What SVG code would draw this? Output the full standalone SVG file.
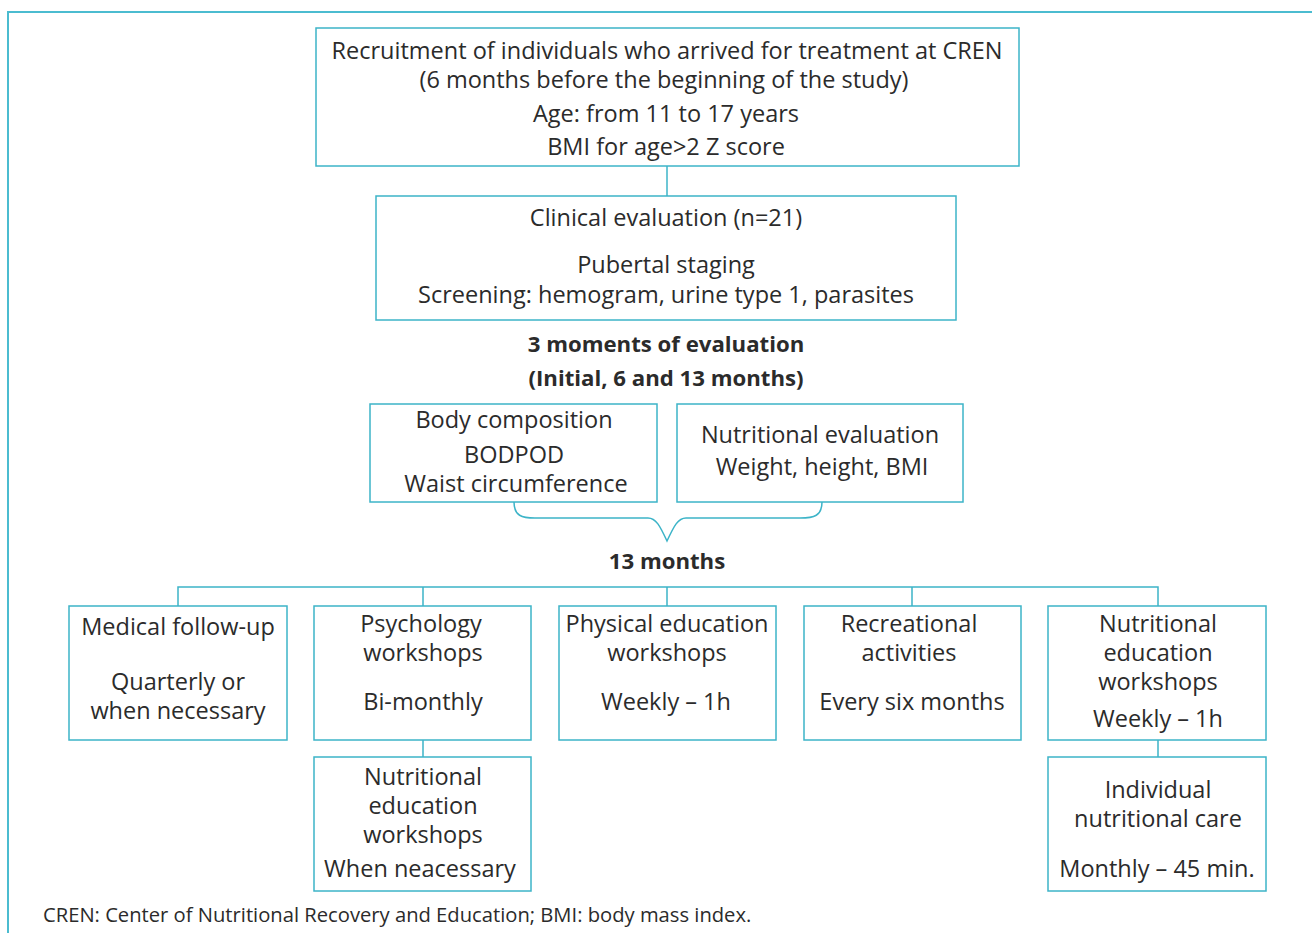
<svg xmlns="http://www.w3.org/2000/svg" width="1312" height="933" viewBox="0 0 1312 933">
<style>
.b{fill:#fff;stroke:#3db4c8;stroke-width:1.5}
.l{fill:none;stroke:#3db4c8;stroke-width:1.5}
text{font-family:"Open Sans","Noto Sans",sans-serif;font-size:23.5px;fill:#2b2b2b;text-anchor:middle}
.t{font-weight:bold;font-size:22.2px}
.f{font-size:20.2px;text-anchor:start}
</style>
<rect width="1312" height="933" fill="#fff"/>
<path d="M8,933 V12 H1312" fill="none" stroke="#4bbcd0" stroke-width="2"/>
<g id="connectors">
<path class="l" d="M667,166 V196"/>
<path class="l" d="M514,502 C514,516 522,518 535,518 H648 C656,518 660,526 667,541 C674,526 678,518 686,518 H800 C814,518 822,516 822,502" stroke-width="2"/>
<path class="l" d="M178,606 V587 H1158 V606 M423,587 V606 M667,587 V606 M912,587 V606"/>
<path class="l" d="M423,740 V757 M1158,740 V757"/>
</g>
<g id="recruitment">
<rect class="b" x="316" y="28" width="703" height="138"/>
<text x="667" y="59">Recruitment of individuals who arrived for treatment at CREN</text>
<text x="664" y="88">(6 months before the beginning of the study)</text>
<text x="666" y="122">Age: from 11 to 17 years</text>
<text x="666" y="155">BMI for age&gt;2 Z score</text>
</g>
<g id="clinical">
<rect class="b" x="376" y="196" width="580" height="124"/>
<text x="666" y="226">Clinical evaluation (n=21)</text>
<text x="666" y="273">Pubertal staging</text>
<text x="666" y="303">Screening: hemogram, urine type 1, parasites</text>
</g>
<g id="moments">
<text class="t" x="666" y="352">3 moments of evaluation</text>
<text class="t" x="666" y="386">(Initial, 6 and 13 months)</text>
</g>
<g id="body">
<rect class="b" x="370" y="404" width="287" height="98"/>
<text x="514" y="428">Body composition</text>
<text x="514" y="463">BODPOD</text>
<text x="516" y="492">Waist circumference</text>
</g>
<g id="nutreval">
<rect class="b" x="677" y="404" width="286" height="98"/>
<text x="820" y="443">Nutritional evaluation</text>
<text x="822" y="475">Weight, height, BMI</text>
</g>
<g id="months13">
<text class="t" x="667" y="569">13 months</text>
</g>
<g id="medical">
<rect class="b" x="69" y="606" width="218" height="134"/>
<text x="178" y="635">Medical follow-up</text>
<text x="178" y="690">Quarterly or</text>
<text x="178" y="719">when necessary</text>
</g>
<g id="psychology">
<rect class="b" x="314" y="606" width="217" height="134"/>
<text x="421" y="632">Psychology</text>
<text x="423" y="661">workshops</text>
<text x="423" y="710">Bi-monthly</text>
</g>
<g id="physical">
<rect class="b" x="559" y="606" width="217" height="134"/>
<text x="667" y="632">Physical education</text>
<text x="667" y="661">workshops</text>
<text x="666" y="710">Weekly – 1h</text>
</g>
<g id="recreational">
<rect class="b" x="804" y="606" width="217" height="134"/>
<text x="909" y="632">Recreational</text>
<text x="909" y="661">activities</text>
<text x="912" y="710">Every six months</text>
</g>
<g id="nutred1">
<rect class="b" x="1048" y="606" width="218" height="134"/>
<text x="1158" y="632">Nutritional</text>
<text x="1158" y="661">education</text>
<text x="1158" y="690">workshops</text>
<text x="1158" y="727">Weekly – 1h</text>
</g>
<g id="nutred2">
<rect class="b" x="314" y="757" width="217" height="134"/>
<text x="423" y="785">Nutritional</text>
<text x="423" y="814">education</text>
<text x="423" y="843">workshops</text>
<text x="420" y="877">When neacessary</text>
</g>
<g id="individual">
<rect class="b" x="1048" y="757" width="218" height="134"/>
<text x="1158" y="798">Individual</text>
<text x="1158" y="827">nutritional care</text>
<text x="1157" y="877">Monthly – 45 min.</text>
</g>
<text class="f" x="43" y="922">CREN: Center of Nutritional Recovery and Education; BMI: body mass index.</text>
</svg>
